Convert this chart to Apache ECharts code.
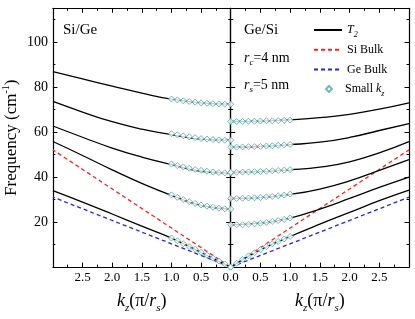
<!DOCTYPE html>
<html><head><meta charset="utf-8">
<script src="https://cdn.jsdelivr.net/npm/echarts@6/dist/echarts.min.js"></script>
<style>html,body{margin:0;padding:0;background:#fff}#c{width:415px;height:319px}</style>
</head><body><div id="c"></div>
<script>
// ---- data ----
const kzLine  = [0, 0.5, 1, 1.5, 2, 2.5, 3];
const kzSmall = [0, 0.1, 0.2, 0.3, 0.4, 0.5, 0.6, 0.7, 0.8, 0.9, 1.0];
const bulkKz  = [0, 3];
const siBulk  = [0, 52.1];
const geBulk  = [0, 31.1];

// Si/Ge panel (left), T2 curves
const siGe_T2_1 = [72.4, 73.0, 74.6, 77.3, 80.4, 83.6, 86.9];
const siGe_T2_2 = [56.4, 56.9, 58.9, 61.3, 64.6, 68.9, 73.6];
const siGe_T2_3 = [41.8, 42.6, 45.6, 48.9, 52.9, 57.7, 62.7];
const siGe_T2_4 = [25.8, 27.4, 31.9, 37.2, 43.2, 49.6, 55.8];
const siGe_T2_5 = [0, 6.5, 12.9, 18.2, 23.6, 28.9, 34.0];
// Si/Ge small kz
const siGe_small_1 = [72.4, 72.4, 72.5, 72.6, 72.8, 73.0, 73.3, 73.6, 73.9, 74.3, 74.7];
const siGe_small_2 = [56.4, 56.4, 56.5, 56.7, 56.9, 57.1, 57.5, 57.9, 58.3, 58.8, 59.3];
const siGe_small_3 = [41.8, 41.9, 42.0, 42.3, 42.6, 43.0, 43.4, 43.9, 44.5, 45.1, 45.8];
const siGe_small_4 = [25.8, 25.9, 26.2, 26.6, 27.1, 27.6, 28.3, 29.1, 30.0, 31.0, 32.1];
const siGe_small_5 = [0, 1.4, 2.7, 4.0, 5.3, 6.6, 7.9, 9.1, 10.4, 11.7, 12.9];

// Ge/Si panel (right), T2 curves
const geSi_T2_1 = [64.7, 64.9, 65.4, 66.4, 67.9, 70.2, 73.0];
const geSi_T2_2 = [53.3, 53.6, 54.4, 55.5, 57.6, 60.7, 63.8];
const geSi_T2_3 = [42.1, 42.4, 43.2, 44.4, 46.8, 50.8, 55.8];
const geSi_T2_4 = [30.5, 30.9, 32.3, 34.7, 38.3, 43.0, 47.8];
const geSi_T2_5 = [18.8, 19.5, 21.8, 25.8, 30.5, 35.4, 40.0];
const geSi_T2_6 = [0, 7.7, 13.6, 19.1, 24.3, 29.5, 34.2];
// Ge/Si small kz
const geSi_small_1 = [64.7, 64.7, 64.7, 64.8, 64.8, 64.9, 65.0, 65.0, 65.1, 65.2, 65.3];
const geSi_small_2 = [53.3, 53.3, 53.4, 53.5, 53.5, 53.6, 53.8, 53.9, 54.1, 54.3, 54.5];
const geSi_small_3 = [42.1, 42.1, 42.2, 42.3, 42.4, 42.5, 42.6, 42.8, 42.9, 43.1, 43.3];
const geSi_small_4 = [30.5, 30.5, 30.6, 30.7, 30.8, 30.9, 31.2, 31.4, 31.7, 32.0, 32.4];
const geSi_small_5 = [18.8, 18.8, 18.8, 19.0, 19.2, 19.5, 19.9, 20.3, 20.7, 21.2, 21.8];
const geSi_small_6 = [0, 1.7, 3.4, 5.0, 6.4, 7.8, 9.1, 10.3, 11.4, 12.5, 13.6];

const xTickLabels = ['0.5', '1.0', '1.5', '2.0', '2.5'];
const yTickLabels = ['20', '40', '60', '80', '100'];

// ---- build ----
const FONT = 'Liberation Serif';
const pairs = (xs, ys) => xs.map((x, i) => [x, ys[i]]);
const series = [];
function addPanel(xi, yi, t2s, smalls) {
  t2s.forEach(c => series.push({
    type: 'line', name: 'T2', xAxisIndex: xi, yAxisIndex: yi, data: pairs(kzLine, c),
    smooth: 0.5, symbol: 'none', lineStyle: { color: '#000', width: 1.3 }, z: 3
  }));
  series.push({ type: 'line', name: 'Si Bulk', xAxisIndex: xi, yAxisIndex: yi, data: pairs(bulkKz, siBulk),
    symbol: 'none', lineStyle: { color: '#ff2020', width: 1.3, type: [4, 3] }, z: 2 });
  series.push({ type: 'line', name: 'Ge Bulk', xAxisIndex: xi, yAxisIndex: yi, data: pairs(bulkKz, geBulk),
    symbol: 'none', lineStyle: { color: '#2020ff', width: 1.3, type: [4, 3] }, z: 2 });
  smalls.forEach(c => series.push({
    type: 'scatter', name: 'Small kz', xAxisIndex: xi, yAxisIndex: yi, data: pairs(kzSmall, c),
    symbol: 'diamond', symbolSize: 6,
    itemStyle: { color: '#ffffff', borderColor: '#4fa6a6', borderWidth: 1 }, z: 5
  }));
}
addPanel(0, 0, [siGe_T2_1, siGe_T2_2, siGe_T2_3, siGe_T2_4, siGe_T2_5],
  [siGe_small_1, siGe_small_2, siGe_small_3, siGe_small_4, siGe_small_5]);
addPanel(2, 2, [geSi_T2_1, geSi_T2_2, geSi_T2_3, geSi_T2_4, geSi_T2_5, geSi_T2_6],
  [geSi_small_1, geSi_small_2, geSi_small_3, geSi_small_4, geSi_small_5, geSi_small_6]);

const lineStyle = { color: '#000', width: 1.2 };
const tick = { inside: true, length: 4.5, lineStyle: { color: '#000', width: 1 } };
const minor = { show: true, splitNumber: 2, length: 2.5, lineStyle: { color: '#000', width: 1 } };
const xNameRich = {
  i: { fontFamily: FONT, fontStyle: 'italic', fontSize: 18, lineHeight: 22 },
  n: { fontFamily: FONT, fontSize: 18, lineHeight: 22 },
  sub: { fontFamily: FONT, fontStyle: 'italic', fontSize: 11, lineHeight: 12, padding: [14, 0, 0, 0] }
};
const xName = '{i|k}{sub|z}{n|(π/}{i|r}{sub|s}{n|)}';

function xAxis(grid, inverse, pos, labels, zeroLabel) {
  return {
    type: 'value', gridIndex: grid, min: 0, max: 3, interval: 0.5, inverse, position: pos,
    axisLine: { onZero: false, lineStyle }, axisTick: tick, minorTick: minor, splitLine: { show: false },
    axisLabel: {
      show: labels, margin: 4, color: '#000', fontFamily: FONT, fontSize: 13,
      formatter: v => {
        const s = v.toFixed(1);
        if (zeroLabel && v === 0) return '0.0';
        return xTickLabels.includes(s) ? s : '';
      }
    },
    name: labels ? xName : '', nameLocation: 'middle', nameGap: 20,
    nameTextStyle: { color: '#000', rich: xNameRich }
  };
}
function yAxis(grid, pos, labels, name) {
  return {
    type: 'value', gridIndex: grid, min: 0, max: 115, interval: 20, position: pos,
    axisLine: { onZero: false, lineStyle }, axisTick: tick, minorTick: minor, splitLine: { show: false },
    axisLabel: {
      show: labels, margin: 5, color: '#000', fontFamily: FONT, fontSize: 14,
      formatter: v => yTickLabels.includes(String(v)) ? String(v) : ''
    },
    name: name ? 'Frequency (cm{sup|-1})' : '', nameLocation: 'middle', nameGap: 22,
    nameTextStyle: {
      color: '#000', fontFamily: FONT, fontSize: 17, lineHeight: 22,
      rich: { sup: { fontFamily: FONT, fontSize: 10, lineHeight: 11, padding: [0, 0, 11, 0] } }
    }
  };
}

const rich13 = {
  i: { fontFamily: FONT, fontStyle: 'italic', fontSize: 14, lineHeight: 16 },
  n: { fontFamily: FONT, fontSize: 14, lineHeight: 16 },
  sub: { fontFamily: FONT, fontStyle: 'italic', fontSize: 9, lineHeight: 9, padding: [9, 0, 0, 0] }
};
const legendText = {
  color: '#000', fontFamily: FONT, fontSize: 12, lineHeight: 18,
  rich: {
    i: { fontFamily: FONT, fontStyle: 'italic', fontSize: 12, lineHeight: 18 },
    n: { fontFamily: FONT, fontSize: 12, lineHeight: 18 },
    sub: { fontFamily: FONT, fontStyle: 'italic', fontSize: 8, lineHeight: 8, padding: [10, 0, 0, 0] }
  }
};
const legendFmt = n => n === 'T2' ? '{i|T}{sub|2}' : n === 'Small kz' ? '{n|Small }{i|k}{sub|z}' : '{n|' + n + '}';

const option = {
  animation: false,
  backgroundColor: '#fff',
  grid: [
    { left: 52.3, top: 8.3, width: 178.4, height: 259 },
    { left: 230.7, top: 8.3, width: 178.3, height: 259 }
  ],
  xAxis: [
    xAxis(0, true, 'bottom', true, false),
    xAxis(0, true, 'top', false, false),
    xAxis(1, false, 'bottom', true, true),
    xAxis(1, false, 'top', false, false)
  ],
  yAxis: [
    yAxis(0, 'left', true, true),
    yAxis(0, 'right', false, false),
    yAxis(1, 'left', false, false),
    yAxis(1, 'right', false, false)
  ],
  legend: [{
    orient: 'vertical', left: 313, top: 21, padding: 0, itemWidth: 28, itemHeight: 6, itemGap: 1.7,
    data: [
      { name: 'T2', itemStyle: { opacity: 0 } },
      { name: 'Si Bulk', itemStyle: { opacity: 0 } },
      { name: 'Ge Bulk', itemStyle: { opacity: 0 } }
    ],
    formatter: legendFmt, textStyle: legendText
  }, {
    orient: 'vertical', left: 325, top: 80, padding: 0, itemWidth: 6, itemHeight: 6,
    data: [{ name: 'Small kz', icon: 'diamond' }],
    formatter: legendFmt,
    textStyle: Object.assign({}, legendText, { padding: [0, 0, 0, 8] })
  }],
  graphic: [
    { type: 'text', left: 63, top: 23, style: { text: 'Si/Ge', fontFamily: FONT, fontSize: 15, fill: '#000' } },
    { type: 'text', left: 244, top: 23, style: { text: 'Ge/Si', fontFamily: FONT, fontSize: 15, fill: '#000' } },
    { type: 'text', left: 244, top: 49, style: { text: '{i|r}{sub|c}{n|=4 nm}', rich: rich13, fill: '#000' } },
    { type: 'text', left: 244, top: 76, style: { text: '{i|r}{sub|s}{n|=5 nm}', rich: rich13, fill: '#000' } }
  ],
  series
};
const chart = echarts.init(document.getElementById('c'), null, { renderer: 'canvas' });
chart.setOption(option);
</script></body></html>
